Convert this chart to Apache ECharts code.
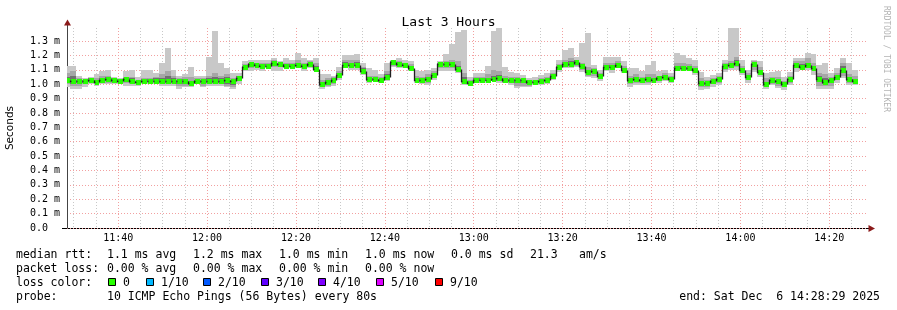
<!DOCTYPE html>
<html><head><meta charset="utf-8">
<script src="https://cdn.jsdelivr.net/npm/echarts@6/dist/echarts.min.js"></script>
<style>html,body{margin:0;padding:0;background:#fff}#c{width:897px;height:310px}</style>
</head><body><div id="c"></div>
<script>
// ---- data ----
const axisStart = '11:28:29';
const axisEnd = '14:28:29';
const firstStep = '11:27:47';
const stepSeconds = 80;

const medianRtt = [
1.03,1.02,1.02,1.02,1.03,1.015,1.03,1.035,1.03,1.025,
1.035,1.025,1.015,1.025,1.025,1.025,1.025,1.02,1.02,1.02,
1.02,1.005,1.02,1.02,1.025,1.025,1.025,1.03,1.02,1.045,
1.12,1.14,1.135,1.13,1.13,1.15,1.14,1.13,1.13,1.135,
1.13,1.14,1.105,1.0,1.015,1.03,1.065,1.135,1.135,1.135,
1.095,1.035,1.035,1.026,1.05,1.153,1.14,1.135,1.11,1.03,
1.026,1.037,1.065,1.14,1.14,1.14,1.105,1.02,1.01,1.03,
1.026,1.03,1.035,1.04,1.026,1.026,1.026,1.026,1.014,1.014,
1.019,1.026,1.058,1.119,1.142,1.142,1.158,1.128,1.085,1.094,
1.057,1.12,1.12,1.133,1.10,1.03,1.037,1.026,1.035,1.03,
1.04,1.053,1.037,1.116,1.116,1.11,1.10,1.007,1.007,1.023,
1.037,1.128,1.135,1.15,1.10,1.053,1.14,1.088,1.0,1.026,
1.02,1.0,1.037,1.135,1.123,1.135,1.116,1.037,1.014,1.026,
1.053,1.10,1.035,1.023];

const smokeMin = [
0.98,0.97,0.97,0.98,1.0,0.99,1.0,1.0,1.0,1.0,
0.99,0.99,0.99,1.0,1.0,1.0,0.99,0.99,0.99,0.97,
0.98,0.98,1.0,0.98,0.99,0.99,0.99,0.98,0.97,1.0,
1.09,1.09,1.10,1.09,1.11,1.09,1.09,1.11,1.11,1.11,
1.09,1.11,1.09,0.97,0.98,0.99,1.03,1.11,1.10,1.10,
1.065,1.01,1.02,1.01,1.02,1.12,1.11,1.11,1.09,1.01,
1.0,0.995,1.03,1.09,1.09,1.09,1.08,0.995,0.995,1.007,
1.007,1.007,1.02,1.007,1.007,0.995,0.972,0.984,0.984,0.995,
0.995,1.0,1.03,1.088,1.11,1.11,1.123,1.088,1.053,1.042,
1.02,1.09,1.08,1.11,1.08,0.98,0.995,0.995,0.995,1.005,
1.005,1.02,1.005,1.09,1.09,1.09,1.065,0.96,0.967,0.984,
0.995,1.088,1.10,1.10,1.065,1.007,1.088,1.053,0.967,0.995,
0.977,0.96,0.995,1.088,1.10,1.10,1.065,0.967,0.967,0.967,
1.007,1.042,0.995,0.995];

const smokeMax = [
1.13,1.13,1.06,1.04,1.05,1.07,1.09,1.10,1.05,1.04,
1.09,1.10,1.05,1.10,1.10,1.08,1.15,1.25,1.10,1.06,
1.07,1.12,1.06,1.06,1.19,1.37,1.15,1.11,1.08,1.08,
1.16,1.17,1.17,1.17,1.17,1.18,1.16,1.18,1.17,1.22,
1.18,1.17,1.18,1.07,1.07,1.06,1.12,1.20,1.20,1.21,
1.15,1.11,1.10,1.07,1.15,1.17,1.18,1.17,1.16,1.10,
1.09,1.10,1.11,1.16,1.21,1.28,1.36,1.38,1.05,1.077,
1.077,1.128,1.37,1.39,1.123,1.088,1.077,1.065,1.042,1.053,
1.065,1.077,1.10,1.17,1.24,1.25,1.19,1.29,1.355,1.135,
1.10,1.19,1.19,1.19,1.16,1.115,1.11,1.09,1.135,1.16,
1.09,1.10,1.077,1.216,1.205,1.18,1.17,1.088,1.047,1.065,
1.077,1.17,1.39,1.39,1.17,1.10,1.17,1.16,1.077,1.084,
1.09,1.047,1.088,1.181,1.181,1.216,1.209,1.135,1.147,1.077,
1.11,1.181,1.147,1.10];

const smokeMidLo = [
1.0,0.99,0.99,1.0,1.01,1.0,1.01,1.01,1.01,1.01,
1.01,1.0,1.0,1.01,1.01,1.01,1.0,1.0,1.0,0.99,
0.99,0.99,1.0,0.99,1.0,1.0,1.0,0.99,0.98,1.02,
1.10,1.11,1.12,1.11,1.12,1.12,1.12,1.12,1.12,1.12,
1.11,1.12,1.09,0.98,0.99,1.0,1.04,1.12,1.12,1.12,
1.08,1.02,1.02,1.02,1.03,1.13,1.12,1.12,1.10,1.02,
1.01,1.01,1.04,1.11,1.11,1.11,1.09,1.01,1.0,1.02,
1.01,1.02,1.02,1.02,1.01,1.01,0.99,0.99,0.99,1.0,
1.0,1.01,1.04,1.10,1.12,1.12,1.13,1.10,1.06,1.06,
1.04,1.10,1.10,1.12,1.09,1.0,1.01,1.01,1.01,1.01,
1.02,1.03,1.02,1.10,1.10,1.10,1.08,0.98,0.98,1.0,
1.01,1.10,1.11,1.12,1.08,1.03,1.10,1.07,0.98,1.0,
0.99,0.98,1.01,1.11,1.11,1.11,1.09,0.99,0.99,0.99,
1.03,1.06,1.01,1.01];

const smokeMidHi = [
1.08,1.09,1.04,1.03,1.04,1.04,1.06,1.06,1.04,1.03,
1.05,1.05,1.03,1.04,1.04,1.05,1.07,1.09,1.06,1.04,
1.05,1.05,1.04,1.04,1.06,1.08,1.06,1.07,1.04,1.06,
1.14,1.15,1.15,1.15,1.15,1.17,1.15,1.15,1.15,1.17,
1.15,1.16,1.15,1.03,1.04,1.05,1.09,1.17,1.17,1.17,
1.12,1.06,1.06,1.05,1.09,1.16,1.16,1.15,1.14,1.06,
1.05,1.07,1.09,1.15,1.16,1.17,1.16,1.08,1.03,1.05,
1.05,1.07,1.10,1.09,1.06,1.05,1.05,1.04,1.03,1.03,
1.04,1.05,1.08,1.14,1.17,1.18,1.17,1.15,1.12,1.11,
1.08,1.15,1.15,1.16,1.13,1.06,1.07,1.05,1.07,1.07,
1.06,1.08,1.06,1.15,1.15,1.14,1.13,1.04,1.03,1.04,
1.06,1.15,1.16,1.19,1.13,1.08,1.16,1.12,1.04,1.05,
1.05,1.02,1.06,1.16,1.16,1.18,1.15,1.08,1.07,1.05,
1.08,1.15,1.07,1.06];

const smokeCoreLo = [
1.01,1.0,1.005,1.01,1.015,1.005,1.015,1.02,1.015,1.015,
1.02,1.01,1.005,1.015,1.015,1.015,1.01,1.01,1.01,1.0,
1.0,0.995,1.01,1.005,1.01,1.01,1.01,1.0,0.995,1.03,
1.11,1.12,1.125,1.12,1.12,1.13,1.125,1.12,1.12,1.125,
1.12,1.125,1.1,0.99,1.0,1.015,1.05,1.125,1.125,1.125,
1.085,1.025,1.025,1.015,1.04,1.14,1.13,1.125,1.1,1.02,
1.015,1.025,1.05,1.125,1.125,1.125,1.095,1.015,1.005,1.025,
1.02,1.02,1.025,1.025,1.015,1.015,1.005,1.01,1.0,1.005,
1.01,1.02,1.05,1.11,1.13,1.13,1.145,1.115,1.075,1.08,
1.05,1.11,1.11,1.125,1.095,1.015,1.025,1.015,1.025,1.02,
1.03,1.045,1.03,1.105,1.105,1.1,1.09,0.99,0.995,1.015,
1.025,1.115,1.125,1.135,1.09,1.045,1.125,1.08,0.99,1.015,
1.005,0.99,1.025,1.125,1.115,1.12,1.1,1.015,1.0,1.01,
1.045,1.08,1.02,1.015];

const smokeCoreHi = [
1.05,1.06,1.03,1.03,1.04,1.03,1.045,1.05,1.04,1.035,
1.045,1.04,1.025,1.035,1.035,1.04,1.045,1.06,1.04,1.03,
1.035,1.025,1.03,1.03,1.04,1.05,1.045,1.05,1.03,1.055,
1.13,1.15,1.145,1.14,1.14,1.16,1.15,1.14,1.14,1.15,
1.14,1.15,1.13,1.015,1.03,1.04,1.08,1.155,1.15,1.155,
1.11,1.045,1.045,1.035,1.07,1.16,1.15,1.145,1.125,1.045,
1.04,1.05,1.075,1.15,1.15,1.155,1.13,1.05,1.02,1.04,
1.04,1.045,1.06,1.065,1.04,1.035,1.035,1.035,1.02,1.02,
1.03,1.035,1.07,1.13,1.155,1.16,1.165,1.14,1.1,1.105,
1.07,1.135,1.135,1.145,1.115,1.045,1.05,1.035,1.05,1.045,
1.05,1.065,1.045,1.13,1.13,1.12,1.115,1.02,1.015,1.03,
1.045,1.14,1.15,1.17,1.11,1.065,1.15,1.1,1.015,1.035,
1.03,1.01,1.045,1.145,1.14,1.15,1.13,1.055,1.04,1.035,
1.065,1.13,1.05,1.035];

const xMajorTicks = ['11:40','12:00','12:20','12:40','13:00','13:20','13:40','14:00','14:20'];
const xMinorTicks = ['11:30','11:35','11:45','11:50','11:55','12:05','12:10','12:15','12:25','12:30','12:35',
  '12:45','12:50','12:55','13:05','13:10','13:15','13:25','13:30','13:35','13:45','13:50','13:55',
  '14:05','14:10','14:15','14:25'];
const yTicks = [0,0.1,0.2,0.3,0.4,0.5,0.6,0.7,0.8,0.9,1.0,1.1,1.2,1.3];

const lossLabels = ['0','1/10','2/10','3/10','4/10','5/10','9/10'];
const lossColors = ['#26ff00','#00b8ff','#0059ff','#5e00ff','#7e00ff','#dd00ff','#ff0000'];

const statsRtt = ['1.1 ms avg','1.2 ms max','1.0 ms min','1.0 ms now','0.0 ms sd','21.3','am/s'];
const statsLoss = ['0.00 % avg','0.00 % max','0.00 % min','0.00 % now'];
const probeText = '10 ICMP Echo Pings (56 Bytes) every 80s';
const endText = 'end: Sat Dec  6 14:28:29 2025';

// ---- helpers ----
function toMin(s){ const p = s.split(':').map(Number); return p[0]*60 + p[1] + (p[2]||0)/60; }
function fmtMin(v){ const h = Math.floor(v/60+1e-6), m = Math.round(v - h*60); return (h<10?'0':'')+h+':'+(m<10?'0':'')+m; }

const tMin = toMin(axisStart), tMax = toMin(axisEnd);
const t0 = toMin(firstStep), stepMin = stepSeconds/60;
const starts = medianRtt.map((_, i) => t0 + i*stepMin);

const lightData = starts.map((s,i) => [s, s+stepMin, smokeMin[i], smokeMax[i]]);
const midData = starts.map((s,i) => [s, s+stepMin, smokeMidLo[i], smokeMidHi[i]]);
const coreData = starts.map((s,i) => [s, s+stepMin, smokeCoreLo[i], smokeCoreHi[i]]);
const medData = starts.map((s,i) => [s, s+stepMin, medianRtt[i], i>0 ? medianRtt[i-1] : medianRtt[i]]);

function bandRenderer(color){
  return function(params, api){
    const a = api.coord([api.value(0), api.value(3)]);
    const b = api.coord([api.value(1), api.value(2)]);
    const x0 = Math.round(a[0]), x1 = Math.round(b[0]);
    const y0 = Math.round(a[1]), y1 = Math.round(b[1]);
    return {type:'rect', shape:{x:x0, y:y0, width:x1-x0, height:y1-y0}, style:{fill:color}};
  };
}
function medianRenderer(params, api){
  const pm = api.coord([api.value(0), api.value(3)]);
  const p1 = api.coord([api.value(0), api.value(2)]);
  const p2 = api.coord([api.value(1), api.value(2)]);
  const x0 = Math.round(p1[0]), x2 = Math.round(p2[0]);
  const ym = Math.round(p1[1]), yp = Math.round(pm[1]);
  return {type:'group', children:[
    {type:'rect', shape:{x:x0+1, y:ym-2, width:x2-x0-1, height:5}, style:{fill:lossColors[0]}},
    {type:'polyline', shape:{points:[[x0+0.5, yp+0.5],[x0+0.5, ym+0.5],[x0+1.5, ym+0.5]]},
     style:{stroke:'#202020', lineWidth:1.3, fill:null}}
  ]};
}

const mono = 'DejaVu Sans Mono';
const gfx = [];
function txt(x, y, s){ gfx.push({type:'text', x:x, y:y, style:{text:s, fontFamily:mono, fontSize:11.5, fill:'#000', verticalAlign:'middle', align:'left'}}); }
const rowY = [255, 269, 283, 297];
const colX = [107, 193, 279, 365, 451, 530, 579];
txt(16, rowY[0], 'median rtt:');
statsRtt.forEach((s,i) => txt(colX[i], rowY[0], s));
txt(16, rowY[1], 'packet loss:');
statsLoss.forEach((s,i) => txt(colX[i], rowY[1], s));
txt(16, rowY[2], 'loss color:');
const boxX = [108, 146, 203, 261, 318, 376, 435];
lossLabels.forEach((s,i) => {
  gfx.push({type:'rect', shape:{x:boxX[i]+0.5, y:rowY[2]-4.5, width:7, height:7}, style:{fill:lossColors[i], stroke:'#000', lineWidth:1}});
  txt(boxX[i]+15, rowY[2], s);
});
txt(16, rowY[3], 'probe:');
txt(107, rowY[3], probeText);
gfx.push({type:'text', x:880, y:rowY[3], style:{text:endText, fontFamily:mono, fontSize:11.5, fill:'#000', verticalAlign:'middle', align:'right'}});
gfx.push({type:'text', x:886, y:59, rotation:-Math.PI/2, style:{text:'RRDTOOL / TOBI OETIKER', fontFamily:mono, fontSize:8, fill:'#b4b4b4', align:'center', verticalAlign:'middle'}});
// axis arrows
gfx.push({type:'line', shape:{x1:67.5, y1:24, x2:67.5, y2:28}, style:{stroke:'#444', lineWidth:1}});
gfx.push({type:'polygon', shape:{points:[[67.5,19.5],[64,25.5],[71,25.5]]}, style:{fill:'#8b1a1a'}});
gfx.push({type:'line', shape:{x1:62, y1:228.5, x2:869, y2:228.5}, style:{stroke:'#000', lineWidth:1}});
gfx.push({type:'polygon', shape:{points:[[875,228.5],[868.5,225],[868.5,232]]}, style:{fill:'#8b1a1a'}});

const chart = echarts.init(document.getElementById('c'), null, {renderer:'canvas'});
chart.setOption({
  backgroundColor:'#ffffff',
  animation:false,
  title:{text:'Last 3 Hours', left:'center', top:11, textStyle:{fontFamily:mono, fontSize:13, fontWeight:'normal', color:'#000'}},
  grid:{left:67, right:30, top:28, bottom:82, containLabel:false, outerBoundsMode:'none'},
  xAxis:[
    {type:'value', min:tMin, max:tMax, position:'bottom',
     axisLine:{show:false}, axisTick:{show:false, customValues:xMajorTicks.map(toMin)},
     axisLabel:{customValues:xMajorTicks.map(toMin), formatter:fmtMin, fontFamily:mono, fontSize:10, color:'#000', margin:5},
     splitLine:{show:true, lineStyle:{color:'#f2a0a0', type:[1,2], width:1}}},
    {type:'value', min:tMin, max:tMax, position:'bottom',
     axisLine:{show:false}, axisTick:{show:false, customValues:xMinorTicks.map(toMin)},
     axisLabel:{show:false},
     splitLine:{show:true, lineStyle:{color:'#c8c8c8', type:[1,2], width:1}}}
  ],
  yAxis:{type:'value', min:0, max:1.391,
    axisLine:{show:true, lineStyle:{color:'#444', width:1}},
    axisTick:{show:false, customValues:yTicks},
    axisLabel:{customValues:yTicks, formatter:v => v===0 ? '0.0  ' : v.toFixed(1)+' m', fontFamily:mono, fontSize:10, color:'#000', margin:7},
    splitLine:{show:true, lineStyle:{color:'#f2a0a0', type:[1,2], width:1}},
    name:'Seconds', nameLocation:'middle', nameGap:51, nameRotate:90,
    nameTextStyle:{fontFamily:'DejaVu Sans', fontSize:10.5, color:'#000'}},
  series:[
    {type:'custom', name:'smoke outer', xAxisIndex:0, clip:true, renderItem:bandRenderer('#c8c8c8'), encode:{x:[0,1], y:[2,3]}, data:lightData, silent:true},
    {type:'custom', name:'smoke mid', xAxisIndex:0, clip:true, renderItem:bandRenderer('#a6a6a6'), encode:{x:[0,1], y:[2,3]}, data:midData, silent:true},
    {type:'custom', name:'smoke core', xAxisIndex:0, clip:true, renderItem:bandRenderer('#707070'), encode:{x:[0,1], y:[2,3]}, data:coreData, silent:true},
    {type:'custom', name:'median', xAxisIndex:0, clip:true, renderItem:medianRenderer, encode:{x:[0,1], y:[2,3]}, data:medData, silent:true}
  ],
  graphic:gfx
});
</script></body></html>
